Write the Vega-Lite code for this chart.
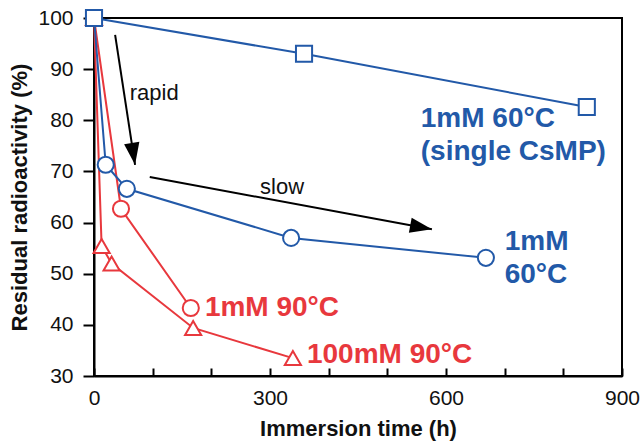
{
  "$schema": "https://vega.github.io/schema/vega-lite/v6.json",
  "width": 528,
  "height": 358,
  "autosize": "none",
  "padding": {"left": 94, "top": 18, "right": 18, "bottom": 67},
  "background": "white",
  "config": {
    "view": {"stroke": "black", "strokeWidth": 2},
    "font": "Liberation Sans",
    "axis": {
      "domainColor": "black", "domainWidth": 2, "tickColor": "black", "tickWidth": 2,
      "labelColor": "#111", "labelFont": "Liberation Sans", "labelFontSize": 21,
      "titleColor": "#111", "titleFont": "Liberation Sans", "titleFontSize": 22, "titleFontWeight": "bold",
      "grid": false, "labelFlush": false
    }
  },
  "datasets": {
    "series": [
      {"series": "r100", "x": 0, "y": 100},
      {"series": "r100", "x": 13, "y": 55.4},
      {"series": "r100", "x": 30, "y": 52},
      {"series": "r100", "x": 169, "y": 39.4},
      {"series": "r100", "x": 339, "y": 33.5},
      {"series": "r90", "x": 0, "y": 100},
      {"series": "r90", "x": 46, "y": 62.7},
      {"series": "r90", "x": 165, "y": 43.3},
      {"series": "b60", "x": 0, "y": 100},
      {"series": "b60", "x": 20, "y": 71.3},
      {"series": "b60", "x": 56, "y": 66.6},
      {"series": "b60", "x": 336, "y": 57},
      {"series": "b60", "x": 668, "y": 53.1},
      {"series": "single", "x": 0, "y": 100},
      {"series": "single", "x": 358, "y": 93},
      {"series": "single", "x": 840, "y": 82.6}
    ],
    "arrows": [
      {"name": "rapid", "x": 36, "y": 96.7, "x2": 70, "y2": 71.3},
      {"name": "slow", "x": 95, "y": 68.9, "x2": 576, "y2": 58.7}
    ],
    "labels": [
      {"series": "single", "x": 557, "y": 80.3, "text": "1mM 60°C"},
      {"series": "single", "x": 557, "y": 73.8, "text": "(single CsMP)"},
      {"series": "b60", "x": 700, "y": 56.2, "text": "1mM"},
      {"series": "b60", "x": 700, "y": 49.7, "text": "60°C"},
      {"series": "r90", "x": 189, "y": 43.3, "text": "1mM 90°C"},
      {"series": "r100", "x": 363, "y": 34.1, "text": "100mM 90°C"}
    ],
    "notes": [
      {"x": 61, "y": 85.3, "text": "rapid"},
      {"x": 283, "y": 67, "text": "slow"}
    ]
  },
  "layer": [
    {
      "data": {"name": "series"},
      "mark": {"type": "line", "strokeWidth": 2},
      "encoding": {
        "x": {"field": "x", "type": "quantitative", "scale": {"domain": [0, 900], "nice": false},
          "axis": {"title": "Immersion time (h)", "values": [0,100,200,300,400,500,600,700,800,900],
            "labelExpr": "datum.value % 300 === 0 ? datum.label : ''", "tickSize": -8, "labelPadding": 19, "titlePadding": 10}},
        "y": {"field": "y", "type": "quantitative", "scale": {"domain": [30, 100], "nice": false},
          "axis": {"title": "Residual radioactivity (%)", "values": [30,40,50,60,70,80,90,100], "tickSize": 11, "labelPadding": 10, "titlePadding": 6}},
        "color": {"field": "series", "type": "nominal",
          "scale": {"domain": ["single", "b60", "r90", "r100"], "range": ["#2259a8", "#2259a8", "#e8383d", "#e8383d"]},
          "legend": null}
      }
    },
    {
      "data": {"name": "series"},
      "mark": {"type": "point", "filled": false, "fill": "white", "fillOpacity": 1, "strokeWidth": 2, "size": 260, "opacity": 1},
      "encoding": {
        "x": {"field": "x", "type": "quantitative"},
        "y": {"field": "y", "type": "quantitative"},
        "color": {"field": "series", "type": "nominal", "legend": null},
        "shape": {"field": "series", "type": "nominal",
          "scale": {"domain": ["single", "b60", "r90", "r100"], "range": ["square", "circle", "circle", "triangle-up"]},
          "legend": null}
      }
    },
    {
      "data": {"name": "arrows"},
      "mark": {"type": "rule", "color": "black", "strokeWidth": 2},
      "encoding": {
        "x": {"field": "x", "type": "quantitative"},
        "y": {"field": "y", "type": "quantitative"},
        "x2": {"field": "x2"},
        "y2": {"field": "y2"}
      }
    },
    {
      "data": {"name": "arrows"},
      "transform": [{"filter": "datum.name === 'rapid'"}],
      "mark": {"type": "point", "shape": "M0,0L-0.35,1L0.35,1Z", "filled": true, "color": "black", "opacity": 1, "size": 1936, "angle": 171.3},
      "encoding": {
        "x": {"field": "x2", "type": "quantitative"},
        "y": {"field": "y2", "type": "quantitative"}
      }
    },
    {
      "data": {"name": "arrows"},
      "transform": [{"filter": "datum.name === 'slow'"}],
      "mark": {"type": "point", "shape": "M0,0L-0.35,1L0.35,1Z", "filled": true, "color": "black", "opacity": 1, "size": 1936, "angle": 100.4},
      "encoding": {
        "x": {"field": "x2", "type": "quantitative"},
        "y": {"field": "y2", "type": "quantitative"}
      }
    },
    {
      "data": {"name": "labels"},
      "mark": {"type": "text", "align": "left", "baseline": "middle", "font": "Liberation Sans", "fontWeight": "bold", "fontSize": 28},
      "encoding": {
        "x": {"field": "x", "type": "quantitative"},
        "y": {"field": "y", "type": "quantitative"},
        "text": {"field": "text"},
        "color": {"field": "series", "type": "nominal", "legend": null}
      }
    },
    {
      "data": {"name": "notes"},
      "mark": {"type": "text", "align": "left", "baseline": "middle", "font": "Liberation Sans", "fontSize": 22, "color": "#111"},
      "encoding": {
        "x": {"field": "x", "type": "quantitative"},
        "y": {"field": "y", "type": "quantitative"},
        "text": {"field": "text"}
      }
    }
  ]
}
